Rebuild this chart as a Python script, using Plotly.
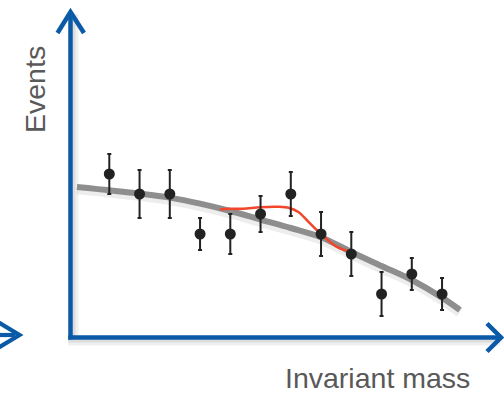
import plotly.graph_objects as go

# ---- data (abstract units: mass bin, events) ----
mass_bins = [1, 2, 3, 4, 5, 6, 7, 8, 9, 10, 11, 12]
events = [50, 45, 45, 35, 35, 40, 45, 35, 30, 20, 25, 20]
event_err = [5, 6, 6, 4, 5, 4.5, 5.5, 5.5, 5.5, 5.5, 4, 4]

bg_mass = [-0.07, 2, 3, 4, 5, 6, 7, 8, 9, 10, 11, 12, 12.59]
bg_events = [46.75, 45.1, 44.1, 42.6, 40.75, 38.6, 36.5, 34.2, 30.5, 27.0, 23.5, 19.1, 16.0]

sig_mass = [4.66, 5.0, 5.42, 6.0, 6.6, 6.95, 7.25, 7.6, 8.0, 8.5, 8.97]
sig_events = [41.2, 41.3, 41.3, 41.7, 41.8, 41.5, 40.5, 37.9, 35.0, 31.9, 30.5]

W, H = 504, 396
BLUE = "#0b5aa8"
TXT = "#595959"


def X(px):
    return px / W


def Y(py):
    return 1 - py / H


def line(x0, y0, x1, y1, color, width, layer="above"):
    return dict(type="line", xref="paper", yref="paper",
                x0=X(x0), y0=Y(y0), x1=X(x1), y1=Y(y1),
                line=dict(color=color, width=width), layer=layer)


def path(pts, color, width, layer="above"):
    d = "M " + " L ".join(f"{X(a):.5f},{Y(b):.5f}" for a, b in pts)
    return dict(type="path", xref="paper", yref="paper", path=d,
                line=dict(color=color, width=width), layer=layer)


fig = go.Figure()

fig.add_trace(go.Scatter(x=bg_mass, y=[v - 0.6 for v in bg_events], mode="lines",
                         line=dict(color="rgba(0,0,0,0.07)", width=10, shape="spline"),
                         hoverinfo="skip", showlegend=False))
fig.add_trace(go.Scatter(x=bg_mass, y=bg_events, mode="lines",
                         line=dict(color="#8e8e8e", width=6, shape="spline"),
                         hoverinfo="skip", showlegend=False))
fig.add_trace(go.Scatter(x=sig_mass, y=sig_events, mode="lines",
                         line=dict(color="#f2472c", width=2.6, shape="spline"),
                         hoverinfo="skip", showlegend=False))
fig.add_trace(go.Scatter(x=mass_bins, y=events, mode="markers",
                         marker=dict(color="#222222", size=11),
                         error_y=dict(type="data", array=event_err, visible=True,
                                      color="#222222", thickness=2, width=2),
                         hoverinfo="skip", showlegend=False))

shapes = []
for off, w, a in [(3, 10, 0.06), (2, 6, 0.08)]:
    shapes.append(line(68, 337.5 + off, 500, 337.5 + off, f"rgba(0,0,0,{a})", w, "below"))
    shapes.append(line(70.5 + off, 14, 70.5 + off, 339, f"rgba(0,0,0,{a})", w, "below"))
shapes.append(line(70.5, 339.5, 70.5, 14, BLUE, 4.5))
shapes.append(line(68.3, 337.5, 500, 337.5, BLUE, 4.5))
shapes.append(path([(57.5, 33), (70.5, 12), (84, 33)], BLUE, 4.5))
shapes.append(path([(487, 323.5), (501, 337.5), (487, 351.5)], BLUE, 4.5))
shapes.append(path([(-2, 322), (19.5, 335), (-2, 348)], BLUE, 4.2))
shapes.append(line(-2, 335, 15, 335, BLUE, 4.2))

fig.update_layout(
    width=W, height=H,
    margin=dict(l=0, r=0, t=0, b=0),
    paper_bgcolor="white", plot_bgcolor="white",
    xaxis=dict(visible=False, range=[-2.6132, 14.0479], fixedrange=True),
    yaxis=dict(visible=False, range=[-5.5, 93.5], fixedrange=True),
    shapes=shapes,
    annotations=[
        dict(text="Events", xref="paper", yref="paper", x=X(35), y=Y(90),
             xanchor="center", yanchor="middle", textangle=-90, showarrow=False,
             font=dict(family="Liberation Sans, Arial", size=28.5, color=TXT)),
        dict(text="Invariant mass", xref="paper", yref="paper", x=X(377.5), y=0,
             xanchor="center", yanchor="bottom", showarrow=False,
             font=dict(family="Liberation Sans, Arial", size=28.5, color=TXT)),
    ],
)

fig.write_html("out.html")
